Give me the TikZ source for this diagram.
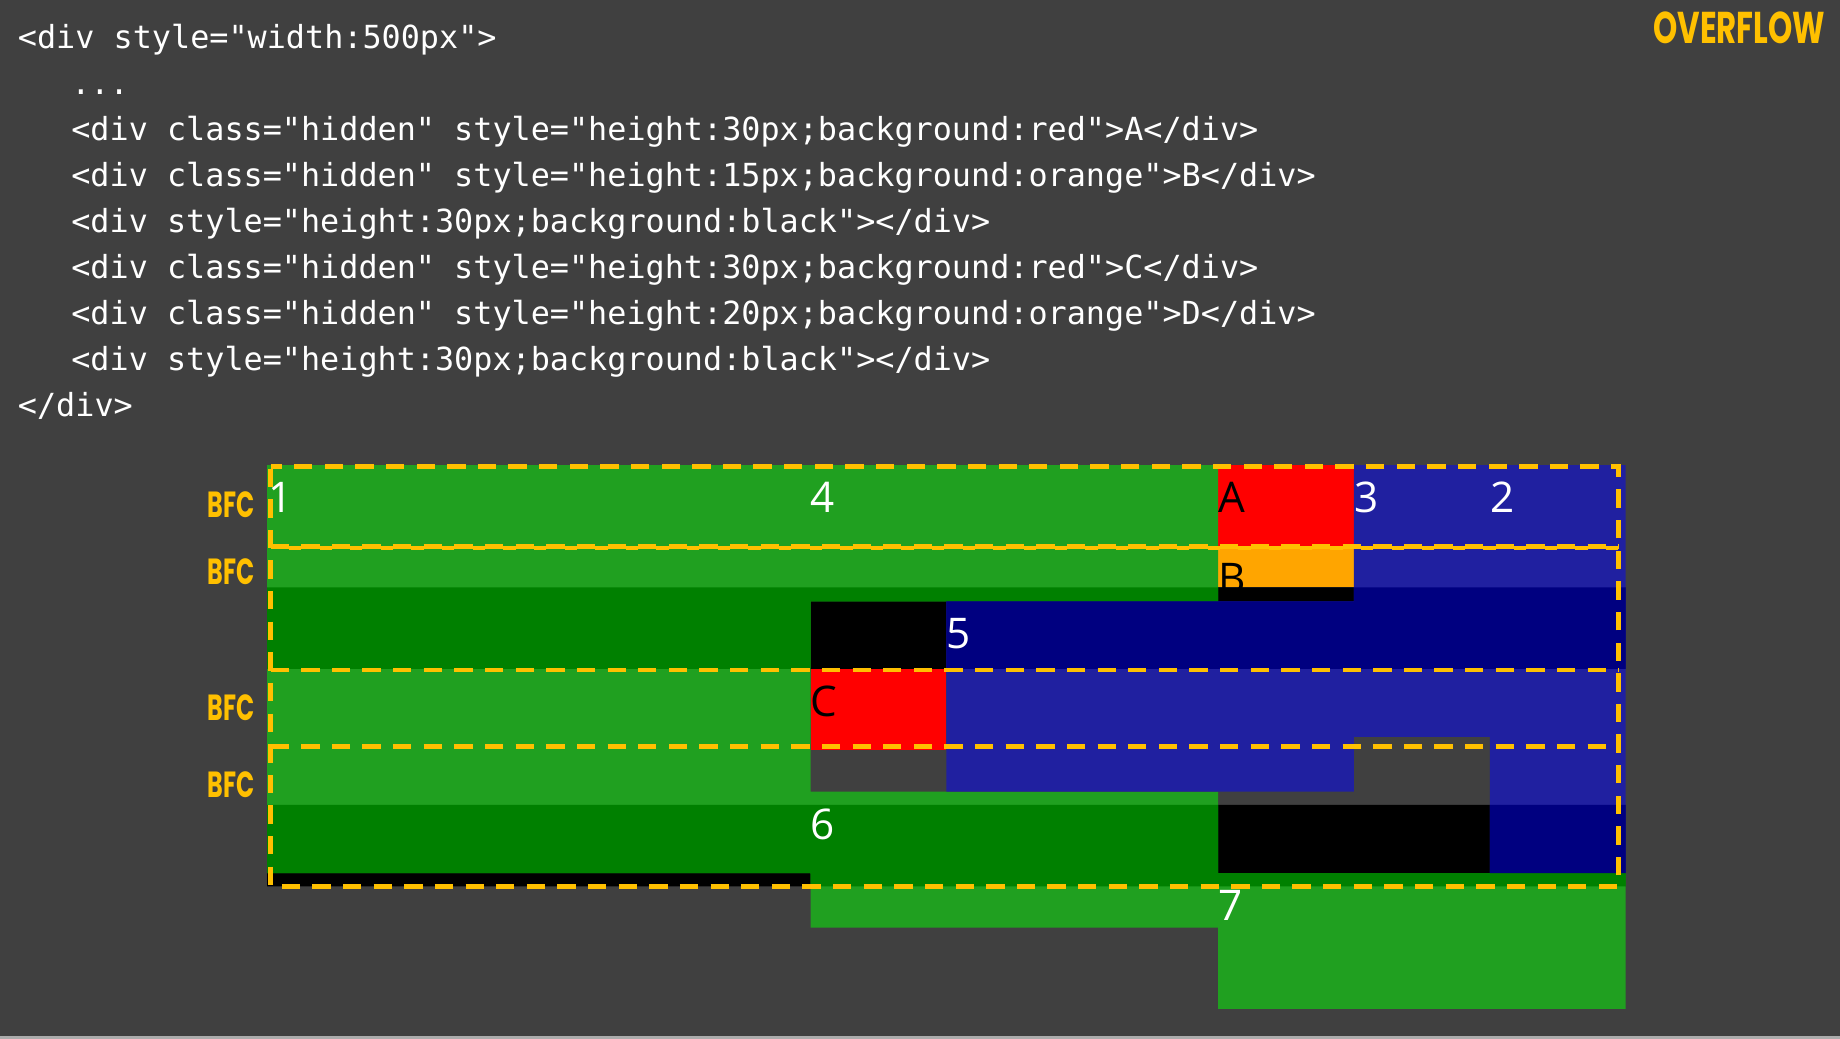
\documentclass[tikz,border=0pt]{standalone}
\usepackage{fontspec}
\usepackage{graphicx}
\setmainfont{Open Sans}
\newfontfamily\codefont{DejaVu Sans Mono}
\newfontfamily\labfont{Open Sans}
\newfontfamily\ovfont{Poppins}
\definecolor{bgray}{RGB}{64,64,64}
\definecolor{ovyellow}{RGB}{255,192,0}
\definecolor{ltgreen}{RGB}{32,160,32}
\definecolor{dkgreen}{RGB}{0,128,0}
\definecolor{ltblue}{RGB}{32,32,160}
\definecolor{dkblue}{RGB}{0,0,128}
\definecolor{orng}{RGB}{255,165,0}
\def\XA{227.6}\def\XB{690.7}\def\XC{806.4}\def\XD{1038.0}
\def\XE{1153.8}\def\XF{1269.6}\def\XG{1385.4}
\begin{document}
\begin{tikzpicture}[x=1pt,y=-1pt,
  codeline/.style={anchor=base west, inner sep=0pt, text=white,
    font={\codefont\fontsize{27.1}{30}\selectfont}},
  numlabel/.style={anchor=base west, inner sep=0pt, text=white,
    font={\labfont\fontsize{36}{40}\selectfont}},
  letlabel/.style={numlabel, text=black},
  bfcline/.style={draw=ovyellow, line width=4pt, dash pattern=on 15.6pt off 10.5pt},
  bfctag/.style={anchor=north west, inner sep=0pt, text=ovyellow}]
% background
\fill[bgray] (0,0) rectangle (1568,885);
\useasboundingbox (0,0) rectangle (1568,885);
\fill[gray!65!white] (0,882.7) rectangle (1568,885);
% black divs
\fill[black] (\XA,500.5) rectangle (\XG,570) (\XA,685.8) rectangle (\XG,755.3);
% hidden BFC boxes A, B, C
\fill[red] (\XD,396.3) rectangle (\XE,465.8);
\fill[orng] (\XD,465.8) rectangle (\XE,500.5);
\fill[red] (\XB,570) rectangle (\XC,639.5);
% floats
\fill[ltgreen] (\XA,396.3) rectangle (\XB,744) (\XB,396.3) rectangle (\XD,512.4)
  (\XB,674.5) rectangle (\XD,790.4) (\XD,744) rectangle (\XG,859.8);
\fill[ltblue] (\XF,396.3) rectangle (\XG,744) (\XE,396.3) rectangle (\XF,628)
  (\XC,512.4) rectangle (\XE,674.5);
\begin{scope}
  \clip (\XA,500.5) rectangle (\XG,570) (\XA,685.8) rectangle (\XG,755.3);
  \fill[dkgreen] (\XA,396.3) rectangle (\XB,744) (\XB,396.3) rectangle (\XD,512.4)
    (\XB,674.5) rectangle (\XD,790.4) (\XD,744) rectangle (\XG,859.8);
  \fill[dkblue] (\XF,396.3) rectangle (\XG,744) (\XE,396.3) rectangle (\XF,628)
    (\XC,512.4) rectangle (\XE,674.5);
\end{scope}
% labels
\node[numlabel] (n1) at (\XA+1,436.5) {1};
\node[numlabel] (n4) at (\XB,436.5) {4};
\node[letlabel] (la) at (\XD,436.5) {A};
\node[numlabel] (n3) at (\XE,436.5) {3};
\node[numlabel] (n2) at (\XF,436.5) {2};
\begin{scope}
  \clip (\XD,465.8) rectangle (\XE,500.5);
  \node[letlabel] (lb) at (\XD,505.7) {B};
\end{scope}
\node[numlabel] (n5) at (\XC,552.5) {5};
\node[letlabel] (lc) at (\XB,610.7) {C};
\node[numlabel] (n6) at (\XB,715) {6};
\node[numlabel] (n7) at (\XD,784.5) {7};
% BFC dashed outlines
\draw[bfcline, dash phase=-2pt] (230.6,397.3) rectangle (1379.2,755.2);
\draw[bfcline] (230.6,465.6) -- (1379.2,465.6);
\draw[bfcline, line width=3.4pt, dash pattern=on 10.5pt off 15.6pt, dash phase=10.5pt]
  (230.6,466.9) -- (1379.2,466.9);
\draw[bfcline] (230.6,571) -- (1379.2,571);
\draw[bfcline] (230.6,636.3) -- (1379.2,636.3);
% BFC tags
\node[bfctag] (bfc1) at (177,419) {\resizebox{40pt}{22pt}{\ovfont\bfseries BFC}};
\node[bfctag] (bfc2) at (177,475.7) {\resizebox{40pt}{22pt}{\ovfont\bfseries BFC}};
\node[bfctag] (bfc3) at (177,592) {\resizebox{40pt}{22pt}{\ovfont\bfseries BFC}};
\node[bfctag] (bfc4) at (177,657.6) {\resizebox{40pt}{22pt}{\ovfont\bfseries BFC}};
\node[bfctag] (ovf) at (1408.7,10) {\resizebox{146.5pt}{27pt}{\ovfont\bfseries OVERFLOW}};
% code
\node[codeline] (c1) at (15.1,41) {<div style="width:500px">};
\node[codeline] (c2) at (60.6,80.25) {...};
\node[codeline] (c3) at (60.6,119.5) {<div class="hidden" style="height:30px;background:red">A</div>};
\node[codeline] (c4) at (60.6,158.75) {<div class="hidden" style="height:15px;background:orange">B</div>};
\node[codeline] (c5) at (60.6,198) {<div style="height:30px;background:black"></div>};
\node[codeline] (c6) at (60.6,237.25) {<div class="hidden" style="height:30px;background:red">C</div>};
\node[codeline] (c7) at (60.6,276.5) {<div class="hidden" style="height:20px;background:orange">D</div>};
\node[codeline] (c8) at (60.6,315.75) {<div style="height:30px;background:black"></div>};
\node[codeline] (c9) at (15.1,355) {</div>};
\end{tikzpicture}
\end{document}
